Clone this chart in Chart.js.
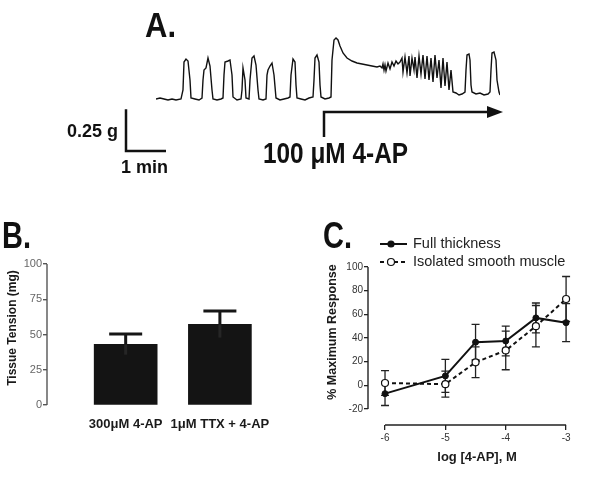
<!DOCTYPE html>
<html>
<head>
<meta charset="utf-8">
<script src="https://cdn.jsdelivr.net/npm/chart.js@4.4.1/dist/chart.umd.min.js"></script>
<style>
  body { margin: 0; background: #fff; }
  #wrap { position: relative; width: 600px; height: 491px; }
  canvas { position: absolute; }
</style>
</head>
<body>
<div id="wrap">
  <canvas id="traceA" width="600" height="190" style="left:0;top:0"></canvas>
  <canvas id="barB" width="300" height="301" style="left:0;top:190px"></canvas>
  <canvas id="doseC" width="300" height="301" style="left:300px;top:190px"></canvas>
</div>
<script>
const FONT = '"Liberation Sans", Arial, sans-serif';

// --- Panel A: tension trace (time in s, tension above baseline in mg)
const traceTime = [
  0, 6, 12, 18, 24, 30, 37.5,
  40.5, 42, 45, 48, 51, 52.5, 58.5, 64.5, 69,
  70.5, 72, 75, 78, 81, 84, 85.5, 91.5, 97.5, 100.5,
  102, 103.5, 108, 111, 114, 115.5, 121.5, 127.5,
  129, 130.5, 133.5, 135, 139.5,
  141, 144, 147, 150, 153, 154.5, 160.5, 165,
  166.5, 168, 171, 174, 177, 180, 186, 192, 198, 201,
  202.5, 205.5, 208.5, 210, 211.5, 217.5, 223.5, 229.5, 235.5,
  237, 238.5, 241.5, 244.5, 246, 247.5, 253.5, 259.5, 262.5,
  264, 267, 270, 273, 276, 280.5, 286.5, 294, 301.5, 309, 316.5, 324, 331.5, 336,
  339, 340.5, 342, 343.5, 345, 348, 351, 354, 357, 360, 363, 366,
  369, 370.5, 373.5, 376.5, 379.5, 381, 384, 387, 388.5, 391.5, 394.5, 397.5,
  400.5, 403.5, 406.5, 409.5, 412.5, 415.5, 418.5, 421.5, 424.5, 427.5, 430.5,
  433.5, 436.5, 439.5, 442.5, 445.5, 450, 454.5, 459, 463.5,
  465, 466.5, 469.5, 471, 472.5, 474, 480, 486, 492, 498, 501,
  502.5, 504, 507, 510, 511.5, 514.5, 516
];
const traceTension = [
  0, 6, 0, -6, 0, -6, 0,
  54, 222, 240, 228, 114, 6, 0, -6, 6,
  114, 174, 186, 246, 198, 54, 0, -6, 0, 6,
  144, 222, 228, 234, 144, 12, -6, 0,
  54, 186, 114, 6, 0,
  114, 246, 258, 204, 54, 0, -6, 0,
  144, 174, 198, 216, 144, 6, -6, 0, 6, 12,
  144, 240, 222, 84, 6, 0, -6, 6, 12,
  114, 246, 264, 222, 84, 12, 0, 6, 12,
  234, 354, 366, 354, 318, 276, 246, 228, 216, 210, 204, 198, 192, 198,
  186, 210, 174, 204, 168, 216, 180, 222, 198, 228, 210, 222,
  246, 162, 252, 156, 258, 138, 246, 174, 252, 126, 258, 150,
  264, 120, 258, 114, 246, 102, 264, 126, 234, 66, 246,
  78, 222, 54, 174, 42, 36, 24, 30, 42,
  174, 264, 270, 234, 84, 42, 30, 36, 24, 30, 42,
  174, 276, 282, 234, 114, 42, 24
];
const drugTime = 252;      // 100 µM 4-AP added
const scaleBarMg = 250;    // 0.25 g
const scaleBarSec = 60;    // 1 min

// --- Panel B: tissue tension
const tensionLabels = ['300\u03bcM 4-AP', '1\u03bcM TTX + 4-AP'];
const tensionMean = [43, 57.2];
const tensionSem = [7.3, 9.4];
const tensionTicks = [0, 25, 50, 75, 100];

// --- Panel C: concentration response
const logDose = [-6, -5, -4.5, -4, -3.5, -3];
const fullMean = [-7, 8, 36.5, 37.5, 57, 53];
const fullSem = [10, 14, 15, 12.5, 12.6, 16];
const isoMean = [2, 1, 19.5, 29.5, 50, 73];
const isoSem = [10.5, 11, 13, 16.3, 17.5, 19];
const doseTicks = [-6, -5, -4, -3];
const responseTicks = [-20, 0, 20, 40, 60, 80, 100];

// condensed bold text (the original labels use a narrow face)
function squeezeText(ctx, text, x, y, size, width, weight) {
  ctx.save();
  ctx.font = (weight || 'bold') + ' ' + size + 'px ' + FONT;
  ctx.textAlign = 'left';
  ctx.textBaseline = 'alphabetic';
  ctx.fillStyle = '#111';
  const w = ctx.measureText(text).width;
  ctx.translate(x, y);
  ctx.scale(width / w, 1);
  ctx.fillText(text, 0, 0);
  ctx.restore();
}

const baseOptions = {
  responsive: false,
  animation: false,
  events: [],
  plugins: { legend: { display: false }, tooltip: { enabled: false } }
};

// ---------- A ----------
const traceExtras = {
  id: 'traceExtras',
  afterDraw(chart) {
    const ctx = chart.ctx;
    const xs = chart.scales.x, ys = chart.scales.y;
    ctx.save();
    ctx.strokeStyle = '#111';
    ctx.fillStyle = '#111';
    ctx.lineWidth = 2.5;
    // scale bar
    const barH = ys.getPixelForValue(0) - ys.getPixelForValue(scaleBarMg);
    const barW = xs.getPixelForValue(scaleBarSec) - xs.getPixelForValue(0);
    ctx.beginPath();
    ctx.moveTo(126, 151 - barH);
    ctx.lineTo(126, 151);
    ctx.lineTo(126 + barW, 151);
    ctx.stroke();
    // drug arrow
    const ax = xs.getPixelForValue(drugTime);
    ctx.beginPath();
    ctx.moveTo(ax, 137);
    ctx.lineTo(ax, 112);
    ctx.lineTo(490, 112);
    ctx.stroke();
    ctx.beginPath();
    ctx.moveTo(503, 112);
    ctx.lineTo(487, 106);
    ctx.lineTo(487, 118);
    ctx.closePath();
    ctx.fill();
    ctx.restore();

    squeezeText(ctx, 'A.', 145, 37, 35, 31);
    squeezeText(ctx, '0.25 g', 67, 137, 19, 51);
    squeezeText(ctx, '1 min', 121, 173, 18, 47);
    squeezeText(ctx, '100 \u03bcM 4-AP', 263, 163, 30, 145);
  }
};

new Chart(document.getElementById('traceA'), {
  type: 'line',
  data: {
    datasets: [{
      data: traceTime.map((t, i) => ({ x: t, y: traceTension[i] })),
      borderColor: '#111',
      borderWidth: 1.4,
      pointRadius: 0,
      tension: 0,
      fill: false
    }]
  },
  options: {
    ...baseOptions,
    layout: { padding: { left: 156, right: 100, top: 30, bottom: 80 } },
    scales: {
      x: { type: 'linear', display: false, min: 0, max: 516 },
      y: { display: false, min: -66, max: 414 }
    }
  },
  plugins: [traceExtras]
});

// ---------- shared axis line plugin (Prism-style detached axes) ----------
const detachedAxes = {
  id: 'detachedAxes',
  afterDraw(chart, args, opts) {
    const ctx = chart.ctx;
    const { x, y } = chart.scales;
    const area = chart.chartArea;
    ctx.save();
    ctx.strokeStyle = opts.color;
    ctx.lineWidth = opts.width;
    ctx.beginPath();
    ctx.moveTo(area.left, y.getPixelForValue(opts.yFrom));
    ctx.lineTo(area.left, y.getPixelForValue(opts.yTo));
    if (opts.xFrom !== undefined) {
      ctx.moveTo(x.getPixelForValue(opts.xFrom), area.bottom);
      ctx.lineTo(x.getPixelForValue(opts.xTo), area.bottom);
    }
    ctx.stroke();
    ctx.restore();
    if (opts.tag) squeezeText(ctx, opts.tag, opts.tagX, 58, 36, 29);
  }
};

// ---------- B ----------
const barErrors = {
  id: 'barErrors',
  afterDatasetsDraw(chart) {
    const ctx = chart.ctx;
    const { x, y } = chart.scales;
    ctx.save();
    ctx.lineWidth = 3;
    tensionMean.forEach((m, i) => {
      const cx = x.getPixelForValue(i + 1);
      const top = y.getPixelForValue(m);
      const hi = y.getPixelForValue(m + tensionSem[i]);
      const lo = y.getPixelForValue(m - tensionSem[i]);
      ctx.strokeStyle = '#262626';
      ctx.beginPath();
      ctx.moveTo(cx, top);
      ctx.lineTo(cx, lo);
      ctx.stroke();
      ctx.strokeStyle = '#161616';
      ctx.beginPath();
      ctx.moveTo(cx, top);
      ctx.lineTo(cx, hi);
      ctx.moveTo(cx - 16.5, hi);
      ctx.lineTo(cx + 16.5, hi);
      ctx.stroke();
    });
    ctx.restore();
  }
};

new Chart(document.getElementById('barB'), {
  type: 'bar',
  data: {
    datasets: [{
      data: tensionMean.map((v, i) => ({ x: i + 1, y: v })),
      backgroundColor: '#141414',
      barThickness: 63,
      borderWidth: 0
    }]
  },
  options: {
    ...baseOptions,
    plugins: {
      ...baseOptions.plugins,
      detachedAxes: { color: '#555', width: 1.4, yFrom: 0, yTo: 100, tag: 'B.', tagX: 2 }
    },
    layout: { padding: { left: 0, right: 33, top: 61, bottom: 26 } },
    scales: {
      x: {
        type: 'linear', min: 0.165, max: 2.5, offset: false,
        grid: { display: false, drawTicks: false, offset: false },
        border: { display: false },
        afterBuildTicks: s => { s.ticks = tensionLabels.map((_, i) => ({ value: i + 1 })); },
        afterFit: s => { s.height = 60; },
        ticks: {
          callback: v => tensionLabels[v - 1] || '',
          font: { family: FONT, size: 13, weight: 'bold' },
          color: '#1a1a1a', padding: 12, maxRotation: 0, autoSkip: false
        }
      },
      y: {
        min: 0, max: 109.2,
        afterBuildTicks: s => { s.ticks = tensionTicks.map(v => ({ value: v })); },
        afterFit: s => { s.width = 47; },
        grid: { drawOnChartArea: false, tickLength: 4, color: '#555', lineWidth: 1.4 },
        border: { display: false },
        ticks: { font: { family: FONT, size: 11 }, color: '#666', padding: 1 },
        title: {
          display: true, text: 'Tissue Tension (mg)',
          font: { family: FONT, size: 12, weight: 'bold' }, color: '#1a1a1a',
          padding: { top: 5, bottom: 0 }
        }
      }
    }
  },
  plugins: [barErrors, detachedAxes]
});

// ---------- C ----------
const doseExtras = {
  id: 'doseExtras',
  beforeDatasetsDraw(chart) {
    const ctx = chart.ctx;
    const { x, y } = chart.scales;
    ctx.save();
    ctx.strokeStyle = '#222';
    ctx.lineWidth = 1.3;
    [[fullMean, fullSem], [isoMean, isoSem]].forEach(([mean, sem]) => {
      mean.forEach((m, i) => {
        const cx = x.getPixelForValue(logDose[i]);
        const hi = y.getPixelForValue(m + sem[i]);
        const lo = y.getPixelForValue(m - sem[i]);
        ctx.beginPath();
        ctx.moveTo(cx, hi); ctx.lineTo(cx, lo);
        ctx.moveTo(cx - 4, hi); ctx.lineTo(cx + 4, hi);
        ctx.moveTo(cx - 4, lo); ctx.lineTo(cx + 4, lo);
        ctx.stroke();
      });
    });
    ctx.restore();
  },
  afterDraw(chart) {
    const ctx = chart.ctx;
    const rows = [
      { text: 'Full thickness', y: 54, dash: [], fill: '#111', r: 3 },
      { text: 'Isolated smooth muscle', y: 72, dash: [4, 3], fill: '#fff', r: 3.5 }
    ];
    ctx.save();
    rows.forEach(row => {
      ctx.strokeStyle = '#111';
      ctx.lineWidth = 2;
      ctx.setLineDash(row.dash);
      ctx.beginPath();
      ctx.moveTo(80, row.y); ctx.lineTo(107, row.y);
      ctx.stroke();
      ctx.setLineDash([]);
      ctx.lineWidth = 1.2;
      ctx.fillStyle = row.fill;
      ctx.beginPath();
      ctx.arc(91, row.y, row.r, 0, Math.PI * 2);
      ctx.fill(); ctx.stroke();
      ctx.fillStyle = '#222';
      ctx.font = '14.5px ' + FONT;
      ctx.textBaseline = 'middle';
      ctx.fillText(row.text, 113, row.y);
    });
    ctx.restore();
  }
};

new Chart(document.getElementById('doseC'), {
  type: 'line',
  data: {
    datasets: [
      {
        label: 'Full thickness',
        data: logDose.map((d, i) => ({ x: d, y: fullMean[i] })),
        borderColor: '#111', borderWidth: 2,
        pointRadius: 3, pointBorderWidth: 1,
        pointBackgroundColor: '#111', pointBorderColor: '#111',
        tension: 0, fill: false
      },
      {
        label: 'Isolated smooth muscle',
        data: logDose.map((d, i) => ({ x: d, y: isoMean[i] })),
        borderColor: '#111', borderWidth: 2, borderDash: [4, 3],
        pointRadius: 3.5, pointBorderWidth: 1.2,
        pointBackgroundColor: '#fff', pointBorderColor: '#111',
        tension: 0, fill: false
      }
    ]
  },
  options: {
    ...baseOptions,
    plugins: {
      ...baseOptions.plugins,
      detachedAxes: { color: '#222', width: 1.4, yFrom: -20, yTo: 100, xFrom: -6, xTo: -3, tag: 'C.', tagX: 23 }
    },
    layout: { padding: { left: 0, right: 14, top: 49, bottom: 16 } },
    scales: {
      x: {
        type: 'linear', min: -6.282, max: -2.67,
        afterBuildTicks: s => { s.ticks = doseTicks.map(v => ({ value: v })); },
        afterFit: s => { s.height = 50; },
        grid: { drawOnChartArea: false, tickLength: 5, color: '#222', lineWidth: 1.3 },
        border: { display: false },
        ticks: { font: { family: FONT, size: 10 }, color: '#333', padding: 2 },
        title: {
          display: true, text: 'log [4-AP], M',
          font: { family: FONT, size: 13, weight: 'bold' }, color: '#1a1a1a',
          padding: { top: 0, bottom: 10 }
        }
      },
      y: {
        min: -33.5, max: 123.7,
        afterBuildTicks: s => { s.ticks = responseTicks.map(v => ({ value: v })); },
        afterFit: s => { s.width = 68; },
        grid: { drawOnChartArea: false, tickLength: 4, color: '#222', lineWidth: 1.3 },
        border: { display: false },
        ticks: { font: { family: FONT, size: 10 }, color: '#333', padding: 1 },
        title: {
          display: true, text: '% Maximum Response',
          font: { family: FONT, size: 12.5, weight: 'bold' }, color: '#1a1a1a',
          padding: { top: 25, bottom: 0 }
        }
      }
    }
  },
  plugins: [doseExtras, detachedAxes]
});
</script>
</body>
</html>
